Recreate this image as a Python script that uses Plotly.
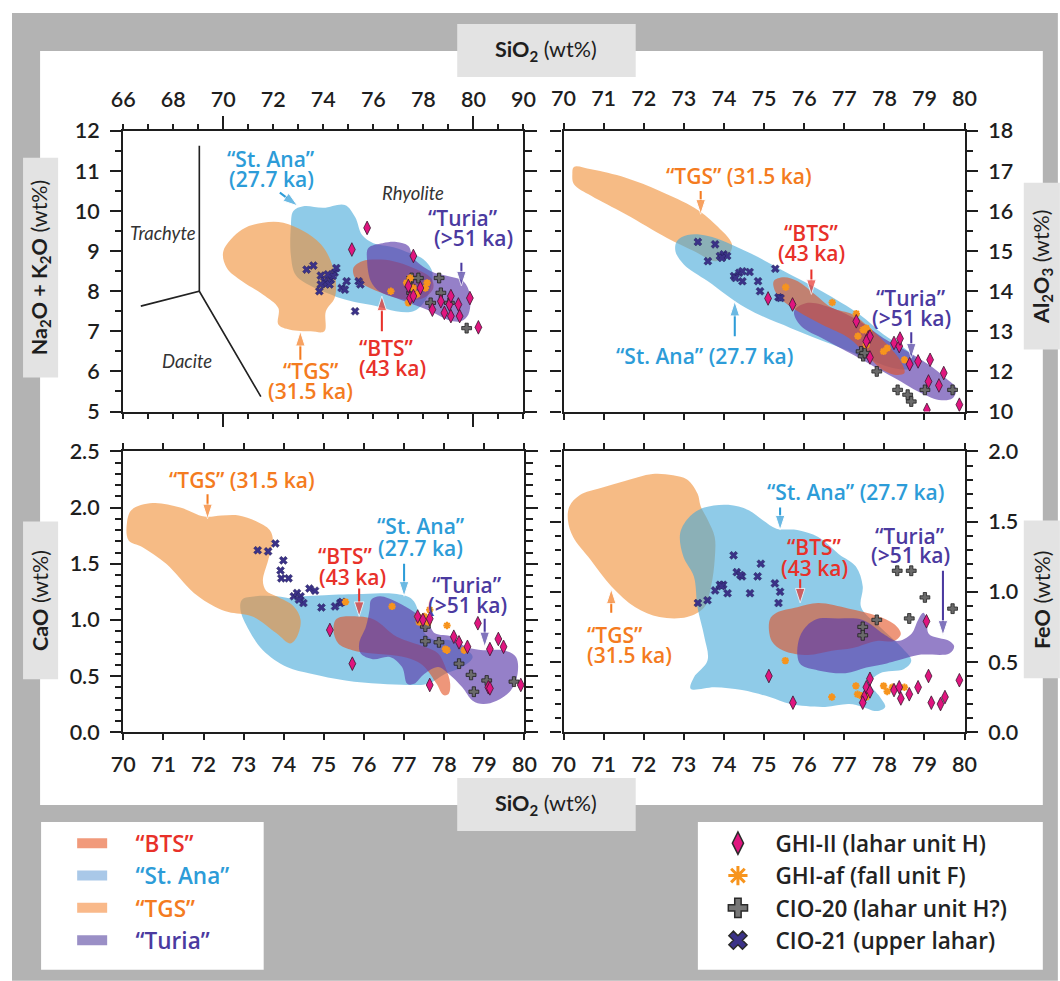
import plotly.graph_objects as go

# Layout is specified in target-picture pixels; the page is photographed at about
# 0.975x with a ~12 px inset, so figure pixels are derived from that mapping.
S, B = 0.975, 12.0
W, H = 1075, 994
FONT = 'Lato, "Open Sans", Arial, sans-serif'
WIDE_FONT = '"Open Sans", "Noto Sans", Lato, sans-serif'
INK = '#1e1e1e'

# ---------------- SiO2 vs Na2O+K2O (TAS) ----------------
TAS_TGS_X = [70.0, 70.75, 71.58, 72.4, 73.2, 73.9, 74.3, 74.5, 74.45, 74.1, 74.04, 73.5, 72.67, 72.2, 72.2, 71.58, 70.75, 70.14]
TAS_TGS_Y = [9.0, 9.54, 9.71, 9.71, 9.5, 9.17, 8.75, 8.25, 7.83, 7.5, 7.0, 7.0, 7.04, 7.17, 7.58, 7.92, 8.25, 8.58]
TAS_STANA_X = [72.8, 73.2, 74.0, 74.86, 75.27, 75.55, 76.0, 76.8, 77.47, 78.0, 78.35, 78.3, 78.0, 77.6, 76.9, 76.1, 75.4, 74.66, 74.3, 73.6, 72.9, 72.7, 72.7]
TAS_STANA_Y = [10.0, 10.12, 10.08, 10.15, 9.85, 9.4, 9.2, 9.1, 8.95, 8.8, 8.5, 8.1, 7.7, 7.5, 7.5, 7.63, 7.71, 7.83, 7.92, 8.1, 8.4, 8.9, 9.6]
TAS_BTS_X = [75.2, 75.55, 76.1, 76.8, 77.6, 78.3, 78.4, 78.0, 77.3, 76.5, 75.7, 75.27]
TAS_BTS_Y = [8.58, 8.75, 8.79, 8.75, 8.58, 8.33, 8.08, 7.83, 7.79, 7.92, 8.13, 8.33]
TAS_TURIA_X = [75.8, 76.37, 76.92, 77.4, 77.6, 78.3, 78.97, 79.6, 79.86, 79.8, 79.5, 78.97, 78.3, 77.6, 76.9, 76.23, 75.9, 75.75]
TAS_TURIA_Y = [9.08, 9.2, 9.23, 9.13, 8.83, 8.5, 8.38, 8.25, 7.92, 7.42, 7.25, 7.29, 7.5, 7.67, 7.83, 8.0, 8.25, 8.75]

TAS_GHI2_X = [75.75, 75.14, 77.6, 79.86, 80.2, 77.47, 77.6, 78.36, 78.7, 79.04, 79.1, 78.84, 79.1, 79.45, 79.4, 77.88, 77.4]
TAS_GHI2_Y = [9.58, 9.04, 8.88, 7.83, 7.1, 7.83, 7.88, 7.54, 7.75, 7.67, 7.88, 7.46, 7.38, 7.38, 7.67, 8.08, 8.13]
TAS_GHIAF_X = [76.7, 77.33, 77.4, 77.6, 78.15, 78.08, 77.47, 77.74]
TAS_GHIAF_Y = [8.0, 8.21, 7.71, 8.08, 8.21, 8.08, 8.33, 7.92]
TAS_CIO20_X = [77.53, 77.8, 77.53, 78.63, 78.7, 78.29, 79.04, 79.73, 77.47]
TAS_CIO20_Y = [8.33, 8.33, 7.96, 8.33, 7.96, 7.71, 7.71, 7.08, 8.13]
TAS_CIO21_X = [73.33, 73.6, 73.9, 73.84, 74.04, 74.1, 74.3, 74.45, 74.52, 74.38, 74.73, 74.93, 75.41, 75.48, 75.27, 73.9, 74.25, 74.18, 74.86]
TAS_CIO21_Y = [8.54, 8.64, 8.39, 8.0, 8.25, 8.18, 8.29, 8.46, 8.58, 8.38, 8.08, 8.25, 8.25, 8.17, 7.5, 8.17, 8.17, 8.42, 8.04]

# TAS field boundaries (trachyte / dacite / rhyolite)
TAS_FIELD_X = [69.04, 69.04, None, 66.7, 69.04, 71.5]
TAS_FIELD_Y = [11.63, 8.0, None, 7.63, 8.0, 5.37]

# top axis labels of the TAS panel
TAS_XTICK_VALS = [66, 68, 70, 72, 74, 76, 78, 80, 82]
TAS_XTICK_TEXT = ['66', '68', '70', '72', '74', '76', '78', '80', '90']

# ---------------- SiO2 vs Al2O3 ----------------
AL_TGS_X = [70.26, 70.69, 71.55, 72.4, 73.26, 73.78, 74.2, 74.12, 73.78, 73.26, 72.58, 71.55, 70.69, 70.26, 70.22]
AL_TGS_Y = [17.1, 17.04, 16.83, 16.5, 16.08, 15.67, 15.17, 14.92, 14.75, 15.0, 15.33, 15.92, 16.38, 16.67, 16.92]
AL_STANA_X = [72.83, 73.09, 73.6, 74.55, 75.5, 76.44, 77.38, 77.98, 78.5, 78.76, 78.67, 78.24, 77.55, 76.7, 75.67, 74.55, 73.6, 73.0, 72.79]
AL_STANA_Y = [15.25, 15.4, 15.38, 15.0, 14.5, 14.0, 13.42, 12.92, 12.58, 12.33, 12.08, 12.08, 12.33, 12.67, 13.08, 13.58, 14.25, 14.67, 15.0]
AL_BTS_X = [75.24, 75.49, 75.84, 76.27, 76.7, 77.21, 77.64, 78.07, 78.41, 78.5, 78.24, 77.9, 77.55, 77.12, 76.44, 75.84, 75.32]
AL_BTS_Y = [14.25, 14.35, 14.25, 13.92, 13.58, 13.42, 13.08, 12.67, 12.25, 11.96, 11.92, 12.08, 12.42, 12.83, 13.17, 13.5, 13.92]
AL_TURIA_X = [75.75, 76.09, 76.7, 77.38, 77.98, 78.58, 79.1, 79.53, 79.79, 79.7, 79.36, 78.84, 78.41, 77.81, 77.21, 76.52, 75.92]
AL_TURIA_Y = [13.5, 13.71, 13.58, 13.25, 12.83, 12.5, 12.17, 11.83, 11.58, 11.33, 11.29, 11.5, 11.75, 12.08, 12.42, 12.79, 13.13]

AL_GHI2_X = [75.1, 75.71, 77.3, 77.6, 77.64, 77.55, 77.64, 78.24, 78.37, 78.39, 78.63, 78.84, 79.14, 79.48, 79.1, 79.36, 79.06, 79.87]
AL_GHI2_Y = [13.82, 13.67, 13.25, 12.85, 12.87, 12.75, 12.35, 12.71, 12.63, 12.82, 12.18, 12.25, 12.29, 11.96, 11.75, 11.65, 11.04, 11.17]
AL_GHIAF_X = [75.54, 76.7, 77.3, 77.34, 77.47, 77.55, 77.6, 77.98, 78.07, 78.5, 77.55]
AL_GHIAF_Y = [14.1, 13.72, 13.44, 12.88, 13.04, 13.08, 13.0, 12.5, 12.58, 12.29, 12.67]
AL_CIO20_X = [77.42, 77.47, 77.51, 77.81, 78.33, 78.58, 78.67, 79.01, 79.7]
AL_CIO20_Y = [12.5, 12.38, 12.46, 12.0, 11.54, 11.42, 11.25, 11.54, 11.54]
AL_CIO21_X = [73.35, 73.78, 73.6, 73.9, 73.99, 74.08, 73.95, 74.25, 74.38, 74.46, 74.64, 74.46, 74.85, 74.9, 75.28, 75.36, 75.41, 74.29]
AL_CIO21_Y = [15.23, 15.17, 14.75, 14.88, 14.92, 14.88, 14.83, 14.38, 14.46, 14.5, 14.48, 14.25, 14.25, 14.0, 14.56, 13.85, 13.83, 14.33]

AL_YTICK_VALS = [11, 12, 13, 14, 15, 16, 17, 18]
AL_YTICK_TEXT = ['10', '12', '13', '14', '15', '16', '17', '18']

# ---------------- SiO2 vs CaO ----------------
CA_TGS_X = [70.09, 70.21, 70.73, 71.42, 72.02, 72.45, 72.88, 73.3, 73.65, 73.73, 73.61, 73.48, 73.56, 73.82, 74.25, 74.42, 74.33, 74.16, 73.82, 73.22, 72.62, 72.27, 71.76, 71.07, 70.47, 70.13]
CA_TGS_Y = [1.86, 1.98, 2.04, 2.0, 1.92, 1.93, 1.93, 1.88, 1.8, 1.71, 1.53, 1.35, 1.26, 1.21, 1.12, 1.0, 0.85, 0.79, 0.88, 1.03, 1.07, 1.12, 1.24, 1.5, 1.65, 1.71]
CA_STANA_X = [72.96, 73.3, 73.82, 74.25, 74.5, 75.02, 75.97, 76.82, 77.21, 77.42, 77.51, 77.77, 78.11, 78.45, 78.71, 78.45, 78.03, 77.6, 77.17, 76.4, 75.54, 74.68, 74.08, 73.48, 73.13, 72.92]
CA_STANA_Y = [1.18, 1.21, 1.21, 1.19, 1.21, 1.22, 1.23, 1.23, 1.18, 1.0, 0.88, 0.82, 0.82, 0.76, 0.67, 0.58, 0.52, 0.43, 0.42, 0.43, 0.46, 0.52, 0.58, 0.73, 0.91, 1.09]
CA_BTS_X = [75.32, 75.88, 76.27, 76.82, 77.51, 77.85, 78.03, 78.15, 78.11, 77.98, 77.81, 77.51, 77.25, 76.82, 76.22, 75.71, 75.36, 75.24]
CA_BTS_Y = [1.01, 1.03, 1.0, 0.85, 0.76, 0.7, 0.58, 0.43, 0.34, 0.33, 0.43, 0.58, 0.64, 0.68, 0.7, 0.73, 0.79, 0.91]
CA_TURIA_X = [76.18, 76.4, 76.82, 77.25, 77.6, 77.77, 78.2, 78.54, 78.97, 79.48, 79.79, 79.83, 79.66, 79.31, 78.97, 78.71, 78.45, 78.11, 77.85, 77.51, 77.25, 77.08, 76.95, 76.65, 76.22, 75.92, 75.88, 76.05, 76.14]
CA_TURIA_Y = [1.18, 1.21, 1.16, 1.07, 0.97, 0.88, 0.85, 0.76, 0.73, 0.73, 0.67, 0.52, 0.37, 0.28, 0.25, 0.28, 0.4, 0.52, 0.58, 0.52, 0.43, 0.43, 0.58, 0.67, 0.65, 0.7, 0.79, 0.94, 1.09]

CA_GHI2_X = [75.15, 75.71, 77.34, 77.47, 77.64, 78.24, 78.37, 78.58, 78.84, 79.14, 79.35, 79.48, 77.64, 79.1, 79.14, 79.91]
CA_GHI2_Y = [0.91, 0.61, 1.03, 1.0, 1.01, 0.85, 0.8, 0.76, 0.97, 0.74, 0.83, 0.76, 0.42, 0.4, 0.39, 0.42]
CA_GHIAF_X = [75.54, 76.7, 77.34, 77.38, 77.64, 77.6, 77.51, 78.07, 78.07, 78.03, 78.5]
CA_GHIAF_Y = [1.16, 1.12, 1.03, 0.98, 1.09, 0.98, 1.03, 0.95, 0.73, 0.74, 0.73]
CA_CIO20_X = [77.53, 77.53, 77.87, 78.37, 78.67, 78.74, 79.06, 79.74]
CA_CIO20_Y = [0.94, 0.81, 0.8, 0.61, 0.51, 0.36, 0.46, 0.45]
CA_CIO21_X = [73.35, 73.61, 73.79, 73.92, 73.99, 73.94, 74.12, 74.25, 74.33, 74.42, 74.49, 74.64, 74.78, 74.94, 75.28, 75.41, 75.45, 74.38]
CA_CIO21_Y = [1.62, 1.61, 1.68, 1.44, 1.53, 1.37, 1.37, 1.21, 1.24, 1.21, 1.15, 1.28, 1.26, 1.11, 1.12, 1.15, 1.16, 1.18]

# ---------------- SiO2 vs FeO ----------------
FE_TGS_X = [70.11, 70.15, 70.41, 70.93, 71.53, 72.22, 72.73, 73.08, 73.34, 73.42, 73.6, 73.77, 73.77, 73.68, 73.51, 73.08, 72.39, 71.79, 71.19, 70.67, 70.24]
FE_TGS_Y = [1.51, 1.61, 1.69, 1.74, 1.79, 1.84, 1.83, 1.8, 1.7, 1.61, 1.51, 1.39, 1.23, 1.04, 0.89, 0.82, 0.82, 0.89, 1.04, 1.23, 1.39]
FE_STANA_X = [72.91, 73.16, 73.51, 74.11, 74.63, 74.97, 75.31, 75.83, 76.35, 76.86, 77.29, 77.46, 77.42, 77.89, 78.41, 78.67, 78.49, 77.89, 77.64, 77.89, 78.02, 77.81, 77.46, 77.12, 76.52, 75.66, 75.14, 74.45, 73.77, 73.17, 73.25, 73.59, 73.51, 73.34, 73.25, 72.99]
FE_STANA_Y = [1.42, 1.54, 1.6, 1.62, 1.58, 1.51, 1.45, 1.44, 1.39, 1.27, 1.18, 1.04, 0.89, 0.75, 0.61, 0.51, 0.45, 0.42, 0.35, 0.25, 0.18, 0.15, 0.18, 0.2, 0.18, 0.2, 0.25, 0.3, 0.32, 0.31, 0.39, 0.51, 0.68, 0.89, 1.11, 1.25]
FE_BTS_X = [75.14, 75.31, 75.83, 76.35, 77.12, 77.81, 78.24, 78.41, 78.24, 77.81, 77.21, 76.69, 76.09, 75.49, 75.19]
FE_BTS_Y = [0.8, 0.85, 0.89, 0.92, 0.88, 0.83, 0.77, 0.7, 0.65, 0.65, 0.6, 0.58, 0.55, 0.58, 0.65]
FE_TURIA_X = [75.83, 75.92, 76.26, 76.86, 77.46, 77.98, 78.32, 78.67, 78.84, 78.97, 79.06, 79.11, 79.62, 79.74, 79.62, 78.84, 78.32, 78.06, 77.55, 77.03, 76.35, 75.92]
FE_TURIA_Y = [0.55, 0.7, 0.8, 0.81, 0.8, 0.7, 0.65, 0.7, 0.8, 0.85, 0.8, 0.7, 0.65, 0.61, 0.56, 0.55, 0.51, 0.49, 0.46, 0.42, 0.44, 0.48]

FE_GHI2_X = [75.12, 75.72, 77.55, 77.5, 77.64, 77.46, 78.24, 78.37, 78.41, 78.62, 78.84, 79.1, 79.05, 79.17, 79.4, 79.51, 79.87, 77.64]
FE_GHI2_Y = [0.4, 0.21, 0.32, 0.25, 0.38, 0.21, 0.3, 0.32, 0.24, 0.27, 0.32, 0.4, 0.79, 0.21, 0.2, 0.25, 0.37, 0.29]
FE_GHIAF_X = [75.53, 76.69, 77.29, 77.33, 77.42, 77.59, 77.98, 78.07, 78.2, 78.5, 77.55]
FE_GHIAF_Y = [0.51, 0.25, 0.33, 0.27, 0.26, 0.27, 0.33, 0.29, 0.32, 0.32, 0.25]
FE_CIO20_X = [77.46, 77.46, 77.81, 78.32, 78.67, 79.01, 78.62, 79.7]
FE_CIO20_Y = [0.75, 0.69, 0.8, 1.15, 1.15, 0.96, 0.81, 0.88]
FE_CIO21_X = [73.35, 73.59, 73.78, 73.9, 73.98, 74.09, 74.24, 74.32, 74.45, 74.41, 74.65, 74.84, 74.92, 75.27, 75.4, 75.36, 73.94]
FE_CIO21_Y = [0.92, 0.94, 1.01, 1.05, 1.05, 0.99, 1.26, 1.14, 1.11, 1.12, 0.99, 1.11, 1.2, 1.06, 1.0, 0.92, 1.04]

# ---------------- styling ----------------
REGION_LABEL = {'BTS': '“BTS”', 'StAna': '“St. Ana”', 'TGS': '“TGS”', 'Turia': '“Turia”'}
REGION_TEXT = {'BTS': '#e8312a', 'StAna': '#2d9cd8', 'TGS': '#f47b20', 'Turia': '#4b3aa0'}
REGION_FILL = {'TGS': 'rgba(240,142,52,0.6)', 'StAna': 'rgba(68,168,217,0.6)',
               'BTS': 'rgba(227,80,33,0.6)', 'Turia': 'rgba(92,60,170,0.65)'}
REGION_KEY = {'BTS': '#f19a7b', 'StAna': '#a9c8e8', 'TGS': '#f9b98a', 'Turia': '#9a8fc6'}


def px(v):
    """target-picture pixel size -> figure pixel size"""
    return v / S


def ipx(v):
    return int(round(v / S))


SAMPLE_ORDER = ['GHI2', 'GHIAF', 'CIO20', 'CIO21']
SAMPLE_LABEL = {'GHI2': 'GHI-II (lahar unit H)', 'GHIAF': 'GHI-af (fall unit F)',
                'CIO20': 'CIO-20 (lahar unit H?)', 'CIO21': 'CIO-21 (upper lahar)'}
SAMPLE_MARKER = {
    'GHI2': dict(symbol='diamond-tall', size=px(9.5), color='#e0157f', line=dict(color='#3a1830', width=0.8)),
    'GHIAF': dict(symbol='asterisk-open', size=px(6), color='#f7941d', line=dict(color='#f7941d', width=2)),
    'CIO20': dict(symbol='cross', size=px(8), color='#6a6a6a', line=dict(color='#202020', width=0.8)),
    'CIO21': dict(symbol='x', size=px(7), color='#3b3288', line=dict(color='#1d1a4a', width=0.4)),
}
SAMPLE_KEY = {
    'GHI2': dict(symbol='diamond-tall', size=16, color='#e0157f', line=dict(color='#2a2a2a', width=1.5)),
    'GHIAF': dict(symbol='asterisk-open', size=16, color='#f7941d', line=dict(color='#f7941d', width=3)),
    'CIO20': dict(symbol='cross', size=16, color='#777777', line=dict(color='#2a2a2a', width=1.5)),
    'CIO21': dict(symbol='x', size=16, color='#3b3288', line=dict(color='#2a2a2a', width=1.5)),
}

PANELS = [
    dict(xa='x', ya='y',
         regions={'TGS': (TAS_TGS_X, TAS_TGS_Y), 'StAna': (TAS_STANA_X, TAS_STANA_Y),
                  'BTS': (TAS_BTS_X, TAS_BTS_Y), 'Turia': (TAS_TURIA_X, TAS_TURIA_Y)},
         order=['StAna', 'TGS', 'BTS', 'Turia'],
         samples={'GHI2': (TAS_GHI2_X, TAS_GHI2_Y), 'GHIAF': (TAS_GHIAF_X, TAS_GHIAF_Y),
                  'CIO20': (TAS_CIO20_X, TAS_CIO20_Y), 'CIO21': (TAS_CIO21_X, TAS_CIO21_Y)}),
    dict(xa='x2', ya='y2',
         regions={'TGS': (AL_TGS_X, AL_TGS_Y), 'StAna': (AL_STANA_X, AL_STANA_Y),
                  'BTS': (AL_BTS_X, AL_BTS_Y), 'Turia': (AL_TURIA_X, AL_TURIA_Y)},
         order=['TGS', 'StAna', 'Turia', 'BTS'],
         samples={'GHI2': (AL_GHI2_X, AL_GHI2_Y), 'GHIAF': (AL_GHIAF_X, AL_GHIAF_Y),
                  'CIO20': (AL_CIO20_X, AL_CIO20_Y), 'CIO21': (AL_CIO21_X, AL_CIO21_Y)}),
    dict(xa='x3', ya='y3',
         regions={'TGS': (CA_TGS_X, CA_TGS_Y), 'StAna': (CA_STANA_X, CA_STANA_Y),
                  'BTS': (CA_BTS_X, CA_BTS_Y), 'Turia': (CA_TURIA_X, CA_TURIA_Y)},
         order=['StAna', 'TGS', 'BTS', 'Turia'],
         samples={'GHI2': (CA_GHI2_X, CA_GHI2_Y), 'GHIAF': (CA_GHIAF_X, CA_GHIAF_Y),
                  'CIO20': (CA_CIO20_X, CA_CIO20_Y), 'CIO21': (CA_CIO21_X, CA_CIO21_Y)}),
    dict(xa='x4', ya='y4',
         regions={'TGS': (FE_TGS_X, FE_TGS_Y), 'StAna': (FE_STANA_X, FE_STANA_Y),
                  'BTS': (FE_BTS_X, FE_BTS_Y), 'Turia': (FE_TURIA_X, FE_TURIA_Y)},
         order=['TGS', 'StAna', 'BTS', 'Turia'],
         samples={'GHI2': (FE_GHI2_X, FE_GHI2_Y), 'GHIAF': (FE_GHIAF_X, FE_GHIAF_Y),
                  'CIO20': (FE_CIO20_X, FE_CIO20_Y), 'CIO21': (FE_CIO21_X, FE_CIO21_Y)}),
]

# in-panel labels: (xref, yref, text, x, y, colour key, xanchor)
LABELS = [
    ('x', 'y', '“St. Ana”', 71.92, 11.29, 'StAna', 'center'),
    ('x', 'y', '(27.7 ka)', 71.92, 10.79, 'StAna', 'center'),
    ('x', 'y', '“Turia”', 79.59, 9.83, 'Turia', 'center'),
    ('x', 'y', '(>51 ka)', 80.0, 9.33, 'Turia', 'center'),
    ('x', 'y', '“TGS”', 73.49, 6.0, 'TGS', 'center'),
    ('x', 'y', '(31.5 ka)', 73.49, 5.5, 'TGS', 'center'),
    ('x', 'y', '“BTS”', 76.51, 6.58, 'BTS', 'center'),
    ('x', 'y', '(43 ka)', 76.78, 6.08, 'BTS', 'center'),
    ('x2', 'y2', '“TGS” (31.5 ka)', 74.38, 16.88, 'TGS', 'center'),
    ('x2', 'y2', '“BTS”', 76.18, 15.46, 'BTS', 'center'),
    ('x2', 'y2', '(43 ka)', 76.18, 14.96, 'BTS', 'center'),
    ('x2', 'y2', '“Turia”', 78.67, 13.83, 'Turia', 'center'),
    ('x2', 'y2', '(>51 ka)', 78.67, 13.33, 'Turia', 'center'),
    ('x2', 'y2', '“St. Ana” (27.7 ka)', 73.52, 12.38, 'StAna', 'center'),
    ('x3', 'y3', '“TGS” (31.5 ka)', 72.96, 2.25, 'TGS', 'center'),
    ('x3', 'y3', '“BTS”', 75.54, 1.57, 'BTS', 'center'),
    ('x3', 'y3', '(43 ka)', 75.71, 1.38, 'BTS', 'center'),
    ('x3', 'y3', '“St. Ana”', 77.42, 1.84, 'StAna', 'center'),
    ('x3', 'y3', '(27.7 ka)', 77.42, 1.64, 'StAna', 'center'),
    ('x3', 'y3', '“Turia”', 78.58, 1.31, 'Turia', 'center'),
    ('x3', 'y3', '(>51 ka)', 78.58, 1.13, 'Turia', 'center'),
    ('x4', 'y4', '“St. Ana” (27.7 ka)', 77.29, 1.71, 'StAna', 'center'),
    ('x4', 'y4', '“BTS”', 76.26, 1.32, 'BTS', 'center'),
    ('x4', 'y4', '(43 ka)', 76.26, 1.17, 'BTS', 'center'),
    ('x4', 'y4', '“Turia”', 78.65, 1.4, 'Turia', 'center'),
    ('x4', 'y4', '(>51 ka)', 78.65, 1.26, 'Turia', 'center'),
    ('x4', 'y4', '“TGS”', 70.54, 0.69, 'TGS', 'left'),
    ('x4', 'y4', '(31.5 ka)', 70.54, 0.55, 'TGS', 'left'),
]

# pointer arrows: (xaxis, yaxis, tail x, tail y, head x, head y, colour key)
ARROWS = [
    ('x', 'y', 72.26, 10.46, 72.97, 10.13, 'StAna'),
    ('x', 'y', 79.52, 8.71, 79.52, 8.13, 'Turia'),
    ('x', 'y', 73.08, 6.29, 73.08, 7.0, 'TGS'),
    ('x', 'y', 76.34, 7.0, 76.34, 7.88, 'BTS'),
    ('x2', 'y2', 73.42, 16.5, 73.42, 15.92, 'TGS'),
    ('x2', 'y2', 76.18, 14.54, 76.18, 13.92, 'BTS'),
    ('x2', 'y2', 78.67, 12.98, 78.67, 12.33, 'Turia'),
    ('x2', 'y2', 74.27, 12.88, 74.27, 13.75, 'StAna'),
    ('x3', 'y3', 72.1, 2.12, 72.1, 1.9, 'TGS'),
    ('x3', 'y3', 75.88, 1.28, 75.88, 1.03, 'BTS'),
    ('x3', 'y3', 77.0, 1.5, 77.0, 1.21, 'StAna'),
    ('x3', 'y3', 79.01, 1.01, 79.01, 0.76, 'Turia'),
    ('x4', 'y4', 75.4, 1.6, 75.4, 1.44, 'StAna'),
    ('x4', 'y4', 75.9, 1.09, 75.9, 0.92, 'BTS'),
    ('x4', 'y4', 79.46, 1.15, 79.46, 0.69, 'Turia'),
    ('x4', 'y4', 71.19, 0.85, 71.19, 1.02, 'TGS'),
]

FIELD_NAMES = [('Trachyte', 67.6, 9.46), ('Dacite', 68.56, 6.27), ('Rhyolite', 77.6, 10.46)]


def clip01(v):
    return min(1.0, max(0.0, v))


def fx(p):
    """target-picture column -> paper fraction"""
    return (p - B) / S / W


def fy(p):
    """target-picture row -> paper fraction"""
    return 1 - (p - B) / S / H


def page_rect(x0, y0, x1, y1, color):
    return dict(type='rect', xref='paper', yref='paper',
                x0=clip01(fx(x0)), x1=clip01(fx(x1)), y0=clip01(fy(y1)), y1=clip01(fy(y0)),
                fillcolor=color, line=dict(width=0), layer='below')


fig = go.Figure()

# compositional fields and sample analyses
for p in PANELS:
    for key in p['order']:
        xs, ys = p['regions'][key]
        fig.add_trace(go.Scatter(
            x=list(xs) + [xs[0]], y=list(ys) + [ys[0]], mode='lines', fill='toself',
            fillcolor=REGION_FILL[key], line=dict(width=0, shape='spline', smoothing=1.0, color=REGION_FILL[key]),
            hoverinfo='skip', showlegend=False, xaxis=p['xa'], yaxis=p['ya']))
    if p['xa'] == 'x':
        fig.add_trace(go.Scatter(x=TAS_FIELD_X, y=TAS_FIELD_Y, mode='lines',
                                 line=dict(color='#222222', width=px(1.6)), hoverinfo='skip',
                                 showlegend=False, xaxis='x', yaxis='y'))
    for key in ['CIO21', 'CIO20', 'GHIAF', 'GHI2']:
        xs, ys = p['samples'][key]
        fig.add_trace(go.Scatter(x=xs, y=ys, mode='markers', marker=SAMPLE_MARKER[key],
                                 showlegend=False, name=SAMPLE_LABEL[key],
                                 xaxis=p['xa'], yaxis=p['ya']))

# pointer arrows: a line with an arrow-head marker turned along the segment
for xa, ya, tx, ty, hx, hy, key in ARROWS:
    fig.add_trace(go.Scatter(
        x=[tx, hx], y=[ty, hy], mode='lines+markers', xaxis=xa, yaxis=ya,
        line=dict(color=REGION_TEXT[key], width=px(2)),
        marker=dict(symbol='arrow', size=[0, px(15)], angleref='previous', color=REGION_TEXT[key]),
        hoverinfo='skip', showlegend=False))

# long ticks at 70 and 80 on the TAS panel
fig.add_trace(go.Scatter(x=[None], y=[None], xaxis='x5', yaxis='y', showlegend=False, hoverinfo='skip'))

# legend keys
NBSP = '\u00a0'
for key in ['BTS', 'StAna', 'TGS', 'Turia']:
    fig.add_trace(go.Scatter(
        x=[None], y=[None], mode='lines', line=dict(color=REGION_KEY[key], width=10),
        name=NBSP * 4 + '<span style="color:%s">%s</span>' % (REGION_TEXT[key], REGION_LABEL[key]),
        legend='legend', showlegend=True))
for key in SAMPLE_ORDER:
    fig.add_trace(go.Scatter(
        x=[None], y=[None], mode='markers', marker=SAMPLE_KEY[key],
        name=NBSP * 3 + SAMPLE_LABEL[key], legend='legend2', showlegend=True))

TICKFONT = dict(family=FONT, size=px(21), color=INK, weight=600)


def minor(t0, dt):
    return dict(tick0=t0, dtick=dt, ticklen=px(6), tickwidth=px(2), tickcolor=INK, ticks='outside')


def axis(**kw):
    base = dict(showline=True, linecolor=INK, linewidth=px(2), mirror='ticks', ticks='outside',
                tickcolor=INK, tickwidth=px(2), showgrid=False, zeroline=False, tickfont=TICKFONT,
                fixedrange=True)
    base.update(kw)
    return base


TOP_Y = [fy(411), fy(130)]
BOT_Y = [fy(732), fy(451)]
LEFT_X = [fx(123), fx(522)]
RIGHT_X = [fx(562), fx(962)]

fig.update_layout(
    width=W, height=H, margin=dict(l=0, r=0, t=0, b=0),
    paper_bgcolor='white', plot_bgcolor='rgba(0,0,0,0)',
    xaxis=axis(domain=LEFT_X, anchor='y', side='top', range=[66, 82], tickmode='array',
               tickvals=TAS_XTICK_VALS, ticktext=TAS_XTICK_TEXT, ticklen=px(5), ticklabelstandoff=ipx(8),
               minor=dict(minor(66, 1), ticklen=px(5))),
    xaxis5=dict(overlaying='x', anchor='y', side='top', range=[66, 82], tickmode='array',
                tickvals=[70, 80], ticks='outside', ticklen=px(14), tickwidth=px(2), tickcolor=INK,
                showticklabels=False, showline=False, mirror='ticks', showgrid=False, zeroline=False,
                fixedrange=True),
    yaxis=axis(domain=TOP_Y, anchor='x', range=[5, 12], dtick=1, tick0=5, ticklen=px(11),
               ticklabelstandoff=ipx(6), minor=minor(5, 0.5)),
    xaxis2=axis(domain=RIGHT_X, anchor='y2', side='top', range=[70, 80], dtick=1, tick0=70,
                ticklen=px(6), ticklabelstandoff=ipx(8)),
    yaxis2=axis(domain=TOP_Y, anchor='x2', side='right', range=[11, 18], tickmode='array',
                tickvals=AL_YTICK_VALS, ticktext=AL_YTICK_TEXT, ticklen=px(11), ticklabelstandoff=ipx(6),
                minor=minor(11, 0.5)),
    xaxis3=axis(domain=[fx(123), fx(523)], anchor='y3', side='bottom', range=[70, 80], dtick=1,
                tick0=70, ticklen=px(6), ticklabelstandoff=ipx(6)),
    yaxis3=axis(domain=BOT_Y, anchor='x3', range=[0, 2.5], dtick=0.5, tick0=0, tickformat='.1f',
                ticklen=px(11), ticklabelstandoff=ipx(6), minor=minor(0, 0.1)),
    xaxis4=axis(domain=RIGHT_X, anchor='y4', side='bottom', range=[70, 80], dtick=1, tick0=70,
                ticklen=px(6), ticklabelstandoff=ipx(6)),
    yaxis4=axis(domain=BOT_Y, anchor='x4', side='right', range=[0, 2.0], dtick=0.5, tick0=0,
                tickformat='.1f', ticklen=px(11), ticklabelstandoff=ipx(6), minor=minor(0, 0.1)),
    legend=dict(x=fx(72), y=fy(822), xanchor='left', yanchor='top', bgcolor='rgba(0,0,0,0)',
                font=dict(family=WIDE_FONT, size=px(22), weight=600), tracegroupgap=0, itemclick=False,
                itemdoubleclick=False),
    legend2=dict(x=fx(716), y=fy(822), xanchor='left', yanchor='top', bgcolor='rgba(0,0,0,0)',
                 font=dict(family=WIDE_FONT, size=px(22), color='#222222', weight=600), tracegroupgap=0,
                 itemclick=False, itemdoubleclick=False),
)

# page furniture: grey surround, white panel, title tabs, legend boxes
shapes = [
    page_rect(5, 5, 1055, 981, '#b3b3b3'),
    page_rect(40, 50, 1040, 805, 'white'),
    page_rect(41, 822, 263, 970, 'white'),
    page_rect(696, 822, 1040, 970, 'white'),
]
TABS = [
    ((456, 23, 634, 76), '<b>SiO<sub>2</sub></b> (wt%)', 0),
    ((456, 778, 634, 831), '<b>SiO<sub>2</sub></b> (wt%)', 0),
    ((23, 157, 58, 377), '<b>Na<sub>2</sub>O + K<sub>2</sub>O</b> (wt%)', -90),
    ((23, 521, 58, 679), '<b>CaO</b> (wt%)', -90),
    ((1021, 182, 1057, 349), '<b>Al<sub>2</sub>O<sub>3</sub></b> (wt%)', -90),
    ((1021, 520, 1057, 678), '<b>FeO</b> (wt%)', -90),
]
annotations = []
for (x0, y0, x1, y1), text, angle in TABS:
    shapes.append(page_rect(x0, y0, x1, y1, '#e3e3e3'))
    annotations.append(dict(xref='paper', yref='paper', x=fx((x0 + x1) / 2), y=fy((y0 + y1) / 2),
                            text=text, textangle=angle, showarrow=False, xanchor='center', yanchor='middle',
                            font=dict(family=FONT, size=px(21), color=INK)))

for xr, yr, text, x, y, key, anchor in LABELS:
    annotations.append(dict(xref=xr, yref=yr, x=x, y=y, text=text, showarrow=False, xanchor=anchor,
                            yanchor='middle',
                            font=dict(family=WIDE_FONT, size=px(20.5), color=REGION_TEXT[key], weight=600)))
for text, x, y in FIELD_NAMES:
    annotations.append(dict(xref='x', yref='y', x=x, y=y, text=text, showarrow=False,
                            font=dict(family=FONT, size=px(18), color='#333333', style='italic')))

fig.update_layout(shapes=shapes, annotations=annotations)

fig.write_html('out.html')
